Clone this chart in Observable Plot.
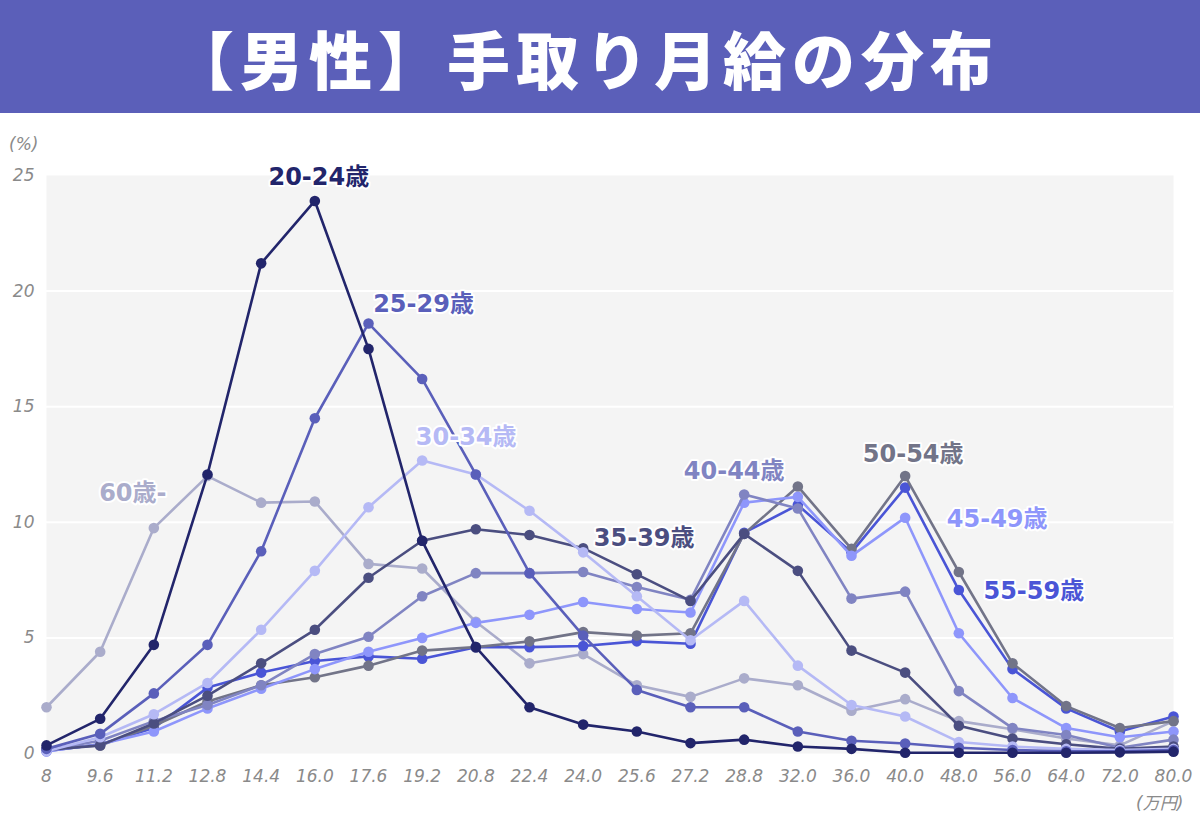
<!DOCTYPE html>
<html>
<head>
<meta charset="utf-8">
<script src="https://cdn.jsdelivr.net/npm/d3@7"></script>
<script src="https://cdn.jsdelivr.net/npm/@observablehq/plot@0.6"></script>
<style>
  html, body { margin: 0; padding: 0; background: #ffffff; }
  #page { position: relative; width: 1200px; height: 830px; overflow: hidden; }
  #banner {
    height: 113px; background: #5b5fb9; color: #ffffff;
    display: flex; align-items: center; justify-content: center;
    font-family: "Noto Sans CJK JP", sans-serif; font-weight: 900;
    font-size: 63px; letter-spacing: 6px; padding-right: 30px; box-sizing: border-box;
  }
  .unit { position: absolute; font-family: "DejaVu Sans", "Noto Sans CJK JP", sans-serif;
    font-style: italic; color: #8a8a8a; font-size: 17px; }
</style>
</head>
<body>
<div id="page">
  <div id="banner">【男性】手取り月給の分布</div>
  <div id="chart"></div>
  <div class="unit" id="ylab" style="left:9px; top:134px;">(%)</div>
  <div class="unit" id="xlab" style="left:1136px; top:789px;">(万円)</div>
</div>
<script>
// ---- data ----
const categories = ["8","9.6","11.2","12.8","14.4","16.0","17.6","19.2","20.8","22.4","24.0","25.6","27.2","28.8","32.0","36.0","40.0","48.0","56.0","64.0","72.0","80.0"];

const age20_24 = [0.35, 1.5, 4.7, 12.07, 21.2, 23.9, 17.5, 9.2, 4.6, 2.0, 1.25, 0.95, 0.45, 0.6, 0.3, 0.2, 0.03, 0.03, 0.03, 0.03, 0.05, 0.08];
const age25_29 = [0.2, 0.85, 2.6, 4.7, 8.75, 14.5, 18.6, 16.2, 12.07, 7.8, 5.1, 2.75, 2.0, 2.0, 0.95, 0.55, 0.43, 0.25, 0.15, 0.1, 0.1, 0.15];
const age30_34 = [0.1, 0.7, 1.7, 3.05, 5.35, 7.9, 10.65, 12.67, 12.07, 10.5, 8.7, 6.8, 4.9, 6.6, 3.8, 2.1, 1.6, 0.5, 0.3, 0.2, 0.15, 0.2];
const age35_39 = [0.15, 0.35, 1.3, 2.5, 3.9, 5.35, 7.6, 9.2, 9.7, 9.45, 8.88, 7.75, 6.6, 9.5, 7.9, 4.45, 3.5, 1.2, 0.65, 0.4, 0.2, 0.3];
const age40_44 = [0.15, 0.55, 1.4, 2.1, 2.95, 4.3, 5.05, 6.8, 7.8, 7.8, 7.85, 7.2, 6.65, 11.2, 10.6, 6.7, 7.0, 2.7, 1.1, 0.8, 0.25, 0.6];
const age45_49 = [0.1, 0.4, 0.95, 1.95, 2.8, 3.65, 4.4, 5.0, 5.65, 6.0, 6.55, 6.25, 6.1, 10.85, 11.1, 8.55, 10.2, 5.2, 2.4, 1.1, 0.7, 0.95];
const age50_54 = [0.2, 0.35, 1.2, 2.25, 2.95, 3.3, 3.8, 4.45, 4.6, 4.85, 5.25, 5.1, 5.2, 9.5, 11.55, 8.85, 12.0, 7.85, 3.9, 2.05, 1.1, 1.4];
const age55_59 = [0.1, 0.4, 1.1, 2.85, 3.5, 4.0, 4.2, 4.1, 4.6, 4.6, 4.65, 4.85, 4.75, 9.55, 10.75, 8.7, 11.5, 7.07, 3.65, 1.95, 0.95, 1.6];
const age60up  = [2.0, 4.4, 9.75, 12.0, 10.85, 10.9, 8.2, 8.0, 5.7, 3.9, 4.3, 2.95, 2.45, 3.25, 2.95, 1.85, 2.35, 1.4, 1.05, 0.65, 0.35, 1.4];

const seriesNames  = ["20-24歳", "25-29歳", "30-34歳", "35-39歳", "40-44歳", "45-49歳", "50-54歳", "55-59歳", "60歳-"];
const seriesValues = [age20_24, age25_29, age30_34, age35_39, age40_44, age45_49, age50_54, age55_59, age60up];
const seriesColors = ["#22256b", "#5a5fba", "#b5b9f5", "#4b4e80", "#8084c2", "#8e96fb", "#727488", "#4a55d6", "#aaaccb"];

// label anchors: series label sits near one of its own points
const labelAnchorCategory = ["16.0", "17.6", "19.2", "24.0", "28.8", "40.0", "40.0", "48.0", "11.2"];
const labelDx = [4, 55, 44, 61, -10, 92, 8, 75, -21];
const labelDy = [-24, -19, -23, -10, -23, 2, -22, 1, -35];

const yTicks = [0, 5, 10, 15, 20, 25];
const gridValues = [5, 10, 15, 20];

// ---- build table ----
const rows = [];
seriesNames.forEach((s, i) => {
  seriesValues[i].forEach((v, j) => rows.push({series: s, cat: categories[j], value: v}));
});
const labelRows = seriesNames.map((s, i) => {
  const j = categories.indexOf(labelAnchorCategory[i]);
  return {series: s, cat: labelAnchorCategory[i], value: seriesValues[i][j], dx: labelDx[i], dy: labelDy[i]};
});

const drawOrder = seriesNames.slice().reverse();
const seriesMarks = [];
drawOrder.forEach(s => {
  const d = rows.filter(r => r.series === s);
  seriesMarks.push(Plot.line(d, {x: "cat", y: "value", stroke: "series", strokeWidth: 2.6}));
  seriesMarks.push(Plot.dot(d, {x: "cat", y: "value", fill: "series", r: 5.3}));
});

const labelMarks = labelRows.map(l => Plot.text([l], {
  x: "cat", y: "value", text: "series", fill: "series",
  dx: l.dx, dy: l.dy, textAnchor: "middle",
  stroke: "white", strokeWidth: 4,
  fontSize: 24, fontWeight: "bold",
  ariaLabel: "series-label"
}));

const chart = Plot.plot({
  width: 1200,
  height: 717,
  marginTop: 62,
  marginBottom: 77,
  marginLeft: 46,
  marginRight: 27,
  style: {fontFamily: "'DejaVu Sans', 'Noto Sans CJK JP', sans-serif", background: "transparent"},
  x: {type: "point", domain: categories, padding: 0, round: false, label: null},
  y: {domain: [0, 25], ticks: yTicks, label: null},
  color: {domain: seriesNames, range: seriesColors},
  marks: [
    Plot.frame({fill: "#f4f4f4", stroke: null}),
    Plot.ruleY(gridValues, {stroke: "white", strokeWidth: 2}),
    Plot.axisY({ticks: yTicks, tickSize: 0, tickPadding: 12, label: null, fontSize: 17, fontStyle: "italic", fill: "#8a8a8a"}),
    Plot.axisX({tickSize: 0, tickPadding: 16, label: null, fontSize: 17, fontStyle: "italic", fill: "#8a8a8a"}),
    ...seriesMarks,
    ...labelMarks
  ]
});
document.getElementById("chart").appendChild(chart);

// style axis text
d3.select(chart).selectAll("g[aria-label='y-axis tick label'] text, g[aria-label='x-axis tick label'] text")
  .style("font-style", "italic").style("font-size", "17px").attr("fill", "#8a8a8a");

// make "歳" smaller inside series labels
d3.select(chart).selectAll("g[aria-label='series-label'] text").each(function() {
  const t = d3.select(this);
  const str = t.text();
  const k = str.indexOf("歳");
  if (k < 0) return;
  const pre = str.slice(0, k), post = str.slice(k + 1);
  t.text(null);
  t.append("tspan").text(pre);
  t.append("tspan").attr("font-size", "15px").attr("font-weight", "900").attr("font-family", "'Noto Sans CJK JP', sans-serif").text("歳");
  if (post) t.append("tspan").text(post);
});
</script>
</body>
</html>
